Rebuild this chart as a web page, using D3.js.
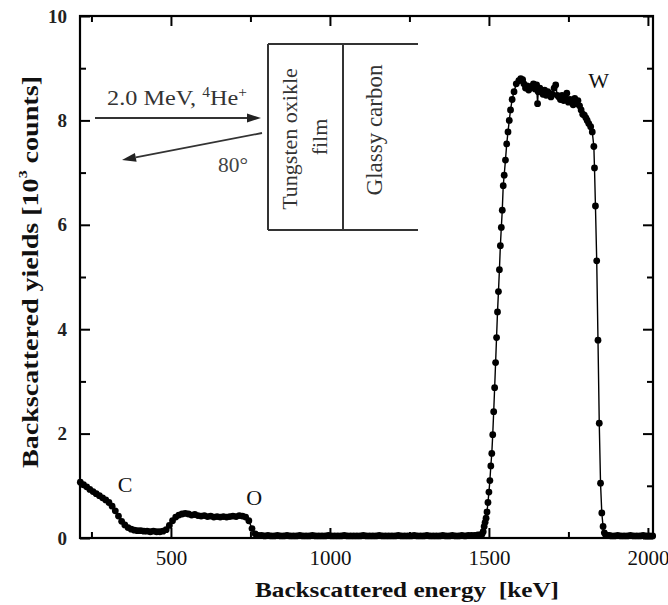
<!DOCTYPE html>
<html><head><meta charset="utf-8">
<script src="https://cdn.jsdelivr.net/npm/d3@7/dist/d3.min.js"></script>
<style>body{margin:0;background:#fff;} svg{display:block;font-family:"Liberation Serif","Times New Roman",serif;}</style>
</head><body><svg id="chart" width="668" height="605"></svg>
<script>
// ---- data ----
const energyKeV = [
  215,225,235,245,255,265,275,285,295,305,315,325,335,345,355,365,375,385,395,405,
  415,425,435,445,455,465,475,485,495,505,515,525,535,545,555,565,575,585,595,605,
  615,625,635,645,655,665,675,685,695,705,715,725,735,745,755,765,775,
  785,795,805,815,825,835,845,855,865,875,885,895,905,915,925,935,945,955,965,975,
  985,995,1005,1015,1025,1035,1045,1055,1065,1075,1085,1095,1105,1115,1125,1135,1145,1155,1165,1175,
  1185,1195,1205,1215,1225,1235,1245,1255,1265,1275,1285,1295,1305,1315,1325,1335,1345,1355,1365,1375,
  1385,1395,1405,1415,1425,1435,1445,1455,1465,1472,
  1478,1482,1485,1488,1491,1494,1497,1500,1503,1506,1509,1512,1515,1518,1521,1524,1527,1530,1533,1536,
  1539,1542,1545,1548,1552,1556,1560,1564,1568,1573,1579,1586,1594,1600,1606,
  1610,1615,1620,1625,1630,1635,1640,1645,1650,1653,1655,1660,1665,1670,1675,1680,1685,1690,1695,1700,
  1705,1710,1715,1720,1725,1730,1735,1740,1745,1750,1755,1760,1765,1770,1775,1780,1785,1790,1795,1800,
  1805,1809,1814,1820,1825,1830,1832,1835,1839,1843,1847,1851,1855,1859,1863,1867,1871,
  1878,1885,1895,1905,1915,1925,1935,1945,1955,1965,1975,1985,1995,2005,2015
];
const yieldK = [
  1.07,1.02,0.98,0.93,0.89,0.85,0.81,0.77,0.73,0.68,0.61,0.52,0.42,0.32,0.25,0.20,0.17,0.15,0.14,0.14,
  0.13,0.13,0.12,0.13,0.12,0.12,0.13,0.16,0.24,0.33,0.40,0.44,0.46,0.47,0.46,0.44,0.45,0.43,0.42,0.43,
  0.41,0.42,0.40,0.41,0.40,0.41,0.40,0.41,0.42,0.41,0.43,0.42,0.40,0.33,0.18,0.08,0.05,
  0.05,0.04,0.05,0.04,0.04,0.05,0.04,0.04,0.05,0.04,0.04,0.04,0.05,0.04,0.04,0.04,0.05,0.04,0.04,0.04,
  0.04,0.05,0.04,0.04,0.04,0.04,0.05,0.04,0.04,0.04,0.04,0.04,0.05,0.04,0.04,0.04,0.04,0.05,0.04,0.04,
  0.04,0.04,0.04,0.05,0.04,0.04,0.04,0.04,0.05,0.04,0.04,0.04,0.05,0.04,0.04,0.04,0.04,0.05,0.04,0.04,
  0.05,0.04,0.04,0.05,0.04,0.05,0.05,0.05,0.06,0.06,
  0.07,0.12,0.22,0.30,0.38,0.50,0.68,0.88,1.10,1.38,1.62,1.98,2.42,2.88,3.36,3.84,4.33,4.72,5.14,5.60,
  5.95,6.28,6.75,6.95,7.24,7.55,7.78,8.00,8.20,8.40,8.55,8.70,8.76,8.80,8.78,
  8.70,8.62,8.66,8.58,8.64,8.65,8.70,8.60,8.68,8.32,8.55,8.62,8.58,8.50,8.58,8.48,8.55,8.52,8.45,8.50,
  8.62,8.68,8.48,8.45,8.40,8.48,8.38,8.45,8.52,8.35,8.40,8.36,8.30,8.42,8.32,8.38,8.28,8.20,8.12,8.10,
  8.05,8.00,7.94,7.88,7.78,7.50,7.09,6.36,5.31,3.79,2.20,1.05,0.48,0.22,0.10,0.06,0.05,
  0.05,0.04,0.04,0.05,0.04,0.04,0.04,0.05,0.04,0.04,0.04,0.05,0.04,0.04,0.04
];
const xTickValues = [500, 1000, 1500, 2000];
const xMinorTicks = [250, 750, 1250, 1750];
const yTickValues = [0, 2, 4, 6, 8, 10];
const yMinorTicks = [1, 3, 5, 7, 9];
const peakNames = ["C", "O", "W"];
const peakEnergy = [356, 762, 1845];
const peakYield = [1.02, 0.77, 8.77];

// ---- drawing ----
const svg = d3.select("#chart");
const L = 80, R = 653, T = 16, B = 538;
const x = d3.scaleLinear().domain([214, 2016]).range([L, R]);
const y = d3.scaleLinear().domain([0, 10]).range([B, T]);

svg.append("rect").attr("width", 668).attr("height", 605).attr("fill", "#fff");

function axisGroup(axis, tx, ty) {
  const g = svg.append("g").attr("transform", `translate(${tx},${ty})`).call(axis);
  g.select(".domain").remove();
  g.selectAll("line").attr("stroke", "#000").attr("stroke-width", 2);
  return g;
}
// bottom
const gB = axisGroup(d3.axisBottom(x).tickValues(xTickValues).tickSize(-10).tickPadding(12).tickFormat(d3.format("d")), 0, B);
gB.selectAll("text").attr("font-size", 21).attr("fill", "#111").attr("font-family", "Liberation Serif, serif");
axisGroup(d3.axisBottom(x).tickValues(xMinorTicks).tickSize(-6).tickFormat(""), 0, B);
// top
axisGroup(d3.axisTop(x).tickValues(xTickValues.filter(d => d < 2016)).tickSize(-10).tickFormat(""), 0, T);
axisGroup(d3.axisTop(x).tickValues(xMinorTicks).tickSize(-6).tickFormat(""), 0, T);
// left
const gL = axisGroup(d3.axisLeft(y).tickValues(yTickValues).tickSize(-10).tickPadding(13), L, 0);
gL.selectAll("text").attr("font-size", 19).attr("font-weight", "bold").attr("fill", "#222").attr("font-family", "Liberation Serif, serif");
axisGroup(d3.axisLeft(y).tickValues(yMinorTicks).tickSize(-6).tickFormat(""), L, 0);
// right
axisGroup(d3.axisRight(y).tickValues(yTickValues).tickSize(-10).tickFormat(""), R, 0);
axisGroup(d3.axisRight(y).tickValues(yMinorTicks).tickSize(-6).tickFormat(""), R, 0);

// frame
svg.append("rect").attr("x", L).attr("y", T).attr("width", R - L).attr("height", B - T)
  .attr("fill", "none").attr("stroke", "#000").attr("stroke-width", 2.2);

// spectrum
const pts = energyKeV.map((e, i) => [e, yieldK[i]]);
svg.append("path").datum(pts)
  .attr("d", d3.line().x(d => x(d[0])).y(d => y(d[1])))
  .attr("fill", "none").attr("stroke", "#000").attr("stroke-width", 1.4);
svg.append("g").selectAll("circle").data(pts).join("circle")
  .attr("cx", d => x(d[0])).attr("cy", d => y(d[1])).attr("r", 3.4).attr("fill", "#000");

// peak labels
peakNames.forEach((n, i) => {
  svg.append("text").attr("x", x(peakEnergy[i])).attr("y", y(peakYield[i]))
    .attr("text-anchor", "middle").attr("dominant-baseline", "central")
    .attr("font-size", 22).attr("fill", "#111").text(n);
});

// inset diagram
const ink = "#333";
const inset = svg.append("g").attr("stroke", ink).attr("stroke-width", 2).attr("fill", "none");
inset.append("line").attr("x1", 268).attr("y1", 44).attr("x2", 418).attr("y2", 44);
inset.append("line").attr("x1", 268).attr("y1", 230).attr("x2", 418).attr("y2", 230);
inset.append("line").attr("x1", 268).attr("y1", 44).attr("x2", 268).attr("y2", 230);
inset.append("line").attr("x1", 343).attr("y1", 44).attr("x2", 343).attr("y2", 230);

function arrow(x1, y1, x2, y2) {
  const ang = Math.atan2(y2 - y1, x2 - x1), len = 14, w = 4.5;
  const bx = x2 - len * Math.cos(ang), by = y2 - len * Math.sin(ang);
  svg.append("line").attr("x1", x1).attr("y1", y1).attr("x2", bx).attr("y2", by)
    .attr("stroke", ink).attr("stroke-width", 1.8);
  const px = -Math.sin(ang) * w, py = Math.cos(ang) * w;
  svg.append("path").attr("d", `M${x2},${y2}L${bx + px},${by + py}L${bx - px},${by - py}Z`).attr("fill", "#222");
}
arrow(95, 118, 261, 118);
arrow(262, 133, 122, 160);

const beam = svg.append("text").attr("x", 107).attr("y", 105).attr("font-size", 22).attr("fill", "#333")
  .attr("textLength", 140).attr("lengthAdjust", "spacingAndGlyphs");
beam.append("tspan").text("2.0 MeV, ");
beam.append("tspan").attr("font-size", 14).attr("dy", -8).text("4");
beam.append("tspan").attr("dy", 8).text("He");
beam.append("tspan").attr("font-size", 14).attr("dy", -8).text("+");
svg.append("text").attr("x", 218).attr("y", 172).attr("font-size", 21).attr("fill", "#444")
  .attr("textLength", 30).attr("lengthAdjust", "spacingAndGlyphs").text("80°");

function vtext(cx, cy, s, fs) {
  svg.append("text").attr("transform", `translate(${cx},${cy}) rotate(-90)`)
    .attr("text-anchor", "middle").attr("dominant-baseline", "central")
    .attr("font-size", fs).attr("fill", "#333").text(s);
}
vtext(289, 139, "Tungsten oxikle", 22);
vtext(319, 137, "film", 22);
vtext(374, 130, "Glassy carbon", 23);

// axis titles
const yt = svg.append("text").attr("transform", "translate(30,272) rotate(-90)")
  .attr("text-anchor", "middle").attr("dominant-baseline", "central")
  .attr("font-size", 23).attr("font-weight", "bold").attr("fill", "#111")
  .attr("textLength", 392).attr("lengthAdjust", "spacingAndGlyphs");
yt.append("tspan").text("Backscattered yields [10");
yt.append("tspan").attr("font-size", 13).attr("dy", -8).text("3");
yt.append("tspan").attr("dy", 8).text(" counts]");

svg.append("text").attr("x", 407).attr("y", 597).attr("text-anchor", "middle")
  .attr("font-size", 22).attr("font-weight", "bold").attr("fill", "#111")
  .attr("textLength", 304).attr("lengthAdjust", "spacingAndGlyphs")
  .attr("xml:space", "preserve").text("Backscattered energy  [keV]");
</script></body></html>
